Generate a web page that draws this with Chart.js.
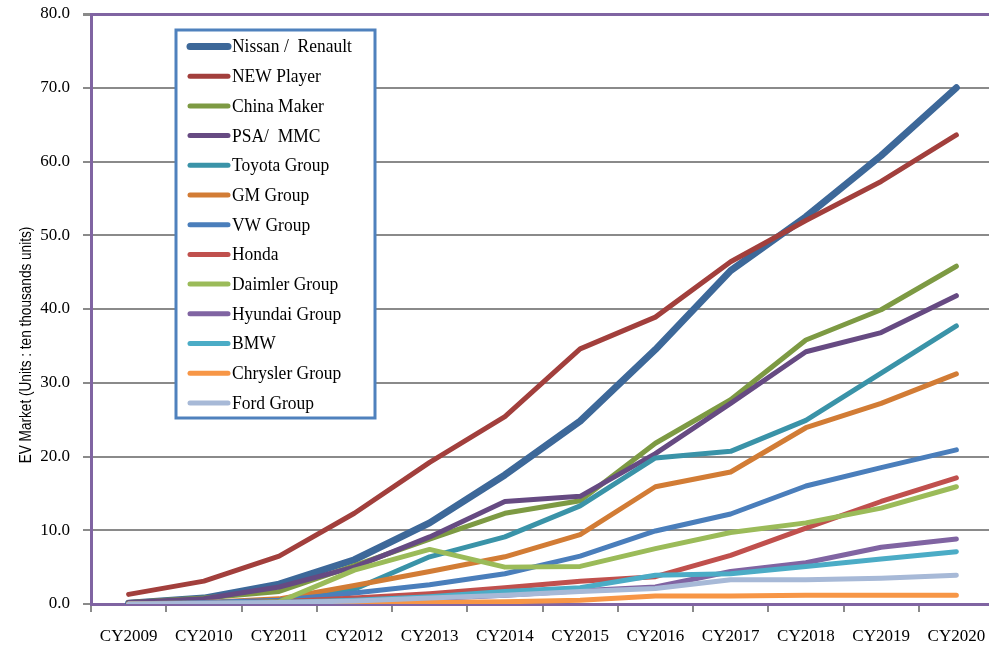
<!DOCTYPE html>
<html>
<head>
<meta charset="utf-8">
<script src="https://cdn.jsdelivr.net/npm/chart.js@4.4.1/dist/chart.umd.min.js"></script>
<style>
  html, body { margin: 0; padding: 0; background: #fff; overflow: hidden; }
  #wrap { width: 994px; height: 647px; position: relative; }
</style>
</head>
<body>
<div id="wrap"><canvas id="grafico"></canvas></div>
<script>
// categorias y series
var anios = ['CY2009', 'CY2010', 'CY2011', 'CY2012', 'CY2013', 'CY2014', 'CY2015', 'CY2016', 'CY2017', 'CY2018', 'CY2019', 'CY2020'];
var etiquetas = ['Nissan /  Renault', 'NEW Player', 'China Maker', 'PSA/  MMC', 'Toyota Group', 'GM Group', 'VW Group', 'Honda', 'Daimler Group', 'Hyundai Group', 'BMW', 'Chrysler Group', 'Ford Group'];

var nissan   = [0.1, 0.8, 2.7, 6.0, 11.0, 17.5, 24.8, 34.5, 45.2, 52.5, 60.8, 70.0];
var newPlayer = [1.3, 3.1, 6.5, 12.3, 19.2, 25.4, 34.6, 38.9, 46.4, 52.0, 57.3, 63.6];
var china    = [0.2, 0.8, 1.7, 5.2, 8.8, 12.3, 14.0, 21.8, 27.7, 35.8, 39.9, 45.8];
var psa      = [0.2, 0.7, 2.3, 5.0, 9.1, 13.9, 14.6, 20.4, 27.2, 34.2, 36.8, 41.8];
var toyota   = [0.0, 0.1, 0.3, 2.0, 6.4, 9.1, 13.3, 19.8, 20.7, 24.9, 31.3, 37.7];
var gm       = [0.0, 0.2, 0.7, 2.5, 4.4, 6.4, 9.4, 15.9, 17.9, 23.9, 27.2, 31.2];
var vw       = [0.0, 0.2, 0.5, 1.5, 2.6, 4.1, 6.5, 9.9, 12.2, 16.0, 18.5, 20.9];
var honda    = [0.0, 0.1, 0.3, 0.8, 1.4, 2.2, 3.1, 3.7, 6.6, 10.3, 13.9, 17.1];
var daimler  = [0.0, 0.0, 0.3, 4.6, 7.4, 5.0, 5.1, 7.5, 9.7, 11.0, 13.0, 15.9];
var hyundai  = [0.0, 0.1, 0.2, 0.4, 0.7, 1.2, 1.8, 2.3, 4.4, 5.6, 7.7, 8.8];
var bmw      = [0.0, 0.1, 0.2, 0.5, 1.0, 1.7, 2.2, 3.9, 4.1, 5.1, 6.1, 7.1];
var chrysler = [0.0, 0.0, 0.0, 0.1, 0.2, 0.3, 0.5, 1.1, 1.1, 1.2, 1.2, 1.2];
var ford     = [0.0, 0.1, 0.2, 0.4, 0.8, 1.2, 1.7, 2.1, 3.3, 3.3, 3.5, 3.9];

var series = [nissan, newPlayer, china, psa, toyota, gm, vw, honda, daimler, hyundai, bmw, chrysler, ford];
var colores = ['#3d6899', '#a23f3c', '#7d9a43', '#664a82', '#3a93a8', '#d27c35', '#4a7ebb', '#c0504d', '#9bbb59', '#8064a2', '#4bacc6', '#f79646', '#a7b9d7'];
var grosores = [7, 5, 5, 5, 5, 5, 5, 5, 5, 5, 5, 5, 5];

var tituloY = 'EV Market (Units : ten thousands units)';

Chart.defaults.font.family = 'Liberation Serif';
Chart.defaults.color = '#000';

var datasets = series.map(function (d, i) {
  return {
    label: etiquetas[i],
    data: d,
    borderColor: colores[i],
    backgroundColor: colores[i],
    borderWidth: grosores[i],
    borderCapStyle: 'round',
    borderJoinStyle: 'round',
    pointRadius: 0,
    tension: 0,
    order: series.length - i
  };
});

// leyenda dentro del area, caja con borde azul
var leyendaPlugin = {
  id: 'leyendaCaja',
  afterDatasetsDraw: function (chart) {
    var ctx = chart.ctx;
    ctx.save();
    ctx.fillStyle = '#fff';
    ctx.fillRect(176, 30, 199, 388);
    ctx.strokeStyle = '#4f81bd';
    ctx.lineWidth = 3;
    ctx.strokeRect(176, 30, 199, 388);
    ctx.textBaseline = 'middle';
    ctx.textAlign = 'left';
    for (var i = 0; i < etiquetas.length; i++) {
      var y = 46.5 + i * 29.7;
      ctx.beginPath();
      ctx.lineCap = 'round';
      ctx.strokeStyle = colores[i];
      ctx.lineWidth = i === 0 ? 7 : 5;
      ctx.moveTo(190, y);
      ctx.lineTo(228, y);
      ctx.stroke();
      ctx.fillStyle = '#000';
      ctx.save();
      ctx.translate(232, y + 1);
      ctx.scale(0.92, 1);
      ctx.font = '19px "Liberation Serif"';
      ctx.fillText(etiquetas[i], 0, 0);
      ctx.restore();
    }
    ctx.restore();
  },
  afterDraw: function (chart) {
    var ctx = chart.ctx;
    ctx.save();
    ctx.translate(26, 345);
    ctx.rotate(-Math.PI / 2);
    ctx.scale(0.8, 1);
    ctx.font = '17px "Liberation Sans"';
    ctx.fillStyle = '#000';
    ctx.textAlign = 'center';
    ctx.textBaseline = 'middle';
    ctx.fillText(tituloY, 0, 0);
    ctx.restore();
  }
};

var ctx = document.getElementById('grafico');
var grafico = new Chart(ctx, {
  type: 'line',
  plugins: [leyendaPlugin],
  data: {
    labels: anios,
    datasets: datasets
  },
  options: {
    responsive: true,
    maintainAspectRatio: false,
    animation: false,
    layout: { padding: { top: 14, right: 0, left: 0, bottom: 0 } },
    plugins: {
      legend: { display: false },
      tooltip: { enabled: false }
    },
    scales: {
      x: {
        offset: true,
        border: { color: '#8064a2', width: 3 },
        grid: {
          offset: true,
          drawOnChartArea: false,
          drawTicks: true,
          tickLength: 8,
          color: '#8a8a8a',
          lineWidth: 2
        },
        ticks: {
          padding: 14,
          maxRotation: 0,
          autoSkip: false,
          font: { size: 17 }
        },
        afterFit: function (s) { s.height = 43; s.paddingLeft = 0; s.paddingRight = 0; }
      },
      y: {
        min: 0,
        max: 80,
        border: { color: '#8064a2', width: 3 },
        grid: {
          color: function (c) { return c.tick && c.tick.value === 80 ? '#8064a2' : '#8a8a8a'; },
          lineWidth: function (c) { return c.tick && c.tick.value === 80 ? 3 : 2; },
          tickColor: '#8a8a8a',
          tickLength: 8
        },
        ticks: {
          stepSize: 10,
          padding: 13,
          font: { size: 17 },
          callback: function (v) { return v.toFixed(1); }
        },
        afterFit: function (s) { s.width = 91; s.paddingTop = 0; s.paddingBottom = 0; }
      }
    }
  }
});
</script>
</body>
</html>
